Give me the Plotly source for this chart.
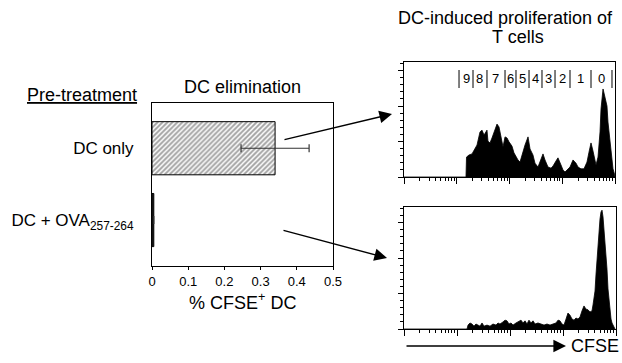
import plotly.graph_objects as go
import numpy as np

# ---------------- data ----------------
categories = ["DC only", "DC + OVA<sub>257-264</sub>"]
cfse_pct = [0.34, 0.005]
cfse_err = [0.094, 0.0]
bar_ticks = [0, 0.1, 0.2, 0.3, 0.4, 0.5]
bar_tick_labels = ["0", "0.1", "0.2", "0.3", "0.4", "0.5"]

# top histogram (DC only): log10 CFSE intensity, cell counts
top_log = [0.0, 1.175, 1.185, 1.232, 1.289, 1.346, 1.384, 1.441, 1.479, 1.517, 1.536, 1.573, 1.592,
           1.630, 1.668, 1.687, 1.725, 1.763, 1.801, 1.820, 1.858, 1.877, 1.915, 1.953, 1.991,
           2.047, 2.085, 2.123, 2.161, 2.199, 2.237, 2.294, 2.351, 2.389, 2.445, 2.483, 2.540,
           2.597, 2.635, 2.673, 2.730, 2.787, 2.825, 2.881, 2.919, 2.976, 3.014, 3.052, 3.090,
           3.147, 3.204, 3.261, 3.299, 3.355, 3.412, 3.469, 3.507, 3.545, 3.583, 3.621, 3.640,
           3.678, 3.716, 3.735, 3.754, 3.773, 3.791, 3.810, 3.848, 3.867, 3.905, 3.943, 3.962,
           3.991, 4.0]
top_count = [0, 0, 56, 62, 65, 82, 90, 127, 132, 118, 124, 132, 101,
             96, 110, 118, 135, 149, 141, 127, 107, 85, 113, 110, 99,
             87, 68, 56, 48, 42, 62, 90, 113, 79, 62, 39, 28,
             51, 65, 48, 28, 25, 31, 45, 54, 34, 20, 14, 20,
             28, 48, 39, 28, 23, 23, 42, 70, 96, 73, 48, 34,
             56, 127, 192, 225, 248, 237, 225, 200, 155, 99, 51, 23,
             8, 0]

# bottom histogram (DC + OVA257-264)
bot_log = [0.0, 1.189, 1.208, 1.245, 1.283, 1.321, 1.358, 1.396, 1.434, 1.472, 1.509, 1.566, 1.623,
           1.679, 1.736, 1.774, 1.811, 1.868, 1.906, 1.943, 1.981, 2.019, 2.057, 2.113, 2.170,
           2.208, 2.245, 2.283, 2.321, 2.358, 2.396, 2.434, 2.472, 2.528, 2.585, 2.642, 2.698,
           2.755, 2.811, 2.868, 2.906, 2.943, 2.981, 3.019, 3.057, 3.094, 3.132, 3.170, 3.208,
           3.245, 3.283, 3.321, 3.358, 3.396, 3.434, 3.472, 3.509, 3.547, 3.566, 3.585, 3.604,
           3.623, 3.642, 3.660, 3.679, 3.698, 3.717, 3.736, 3.755, 3.774, 3.792, 3.811, 3.830,
           3.849, 3.868, 3.887, 3.906, 3.925, 3.962, 3.981]
bot_count = [0, 0, 11, 17, 14, 8, 14, 11, 8, 17, 8, 11, 8,
             14, 11, 17, 14, 20, 25, 23, 14, 17, 11, 17, 23,
             25, 17, 23, 14, 25, 17, 23, 14, 17, 14, 11, 14,
             11, 14, 17, 25, 23, 14, 11, 28, 45, 39, 28, 25,
             31, 28, 34, 51, 65, 56, 54, 48, 51, 68, 85, 107,
             155, 197, 254, 282, 310, 330, 335, 316, 282, 254, 211, 169,
             113, 79, 51, 28, 17, 6, 0]

# division gates (log10 CFSE edges) and their labels
gate_edges = [1.043, 1.308, 1.573, 1.915, 2.123, 2.370, 2.616, 2.863, 3.147, 3.545, 3.943]
gate_labels = ["9", "8", "7", "6", "5", "4", "3", "2", "1", "0"]

# ---------------- figure ----------------
W, H = 622, 363
FONT = "Arial, Liberation Sans, Helvetica, sans-serif"


def px(x):
    return x / W


def py(y):
    return 1 - y / H


fig = go.Figure()

fig.add_trace(go.Bar(
    x=cfse_pct, y=[0, 1], orientation="h", width=0.74,
    marker=dict(color=["white", "#222"], line=dict(color="black", width=1),
                pattern=dict(shape=["/", ""], fgcolor="black", bgcolor="white", size=3.5, solidity=0.55)),
    error_x=dict(type="data", array=cfse_err, color="#333", thickness=1.2, width=4),
    xaxis="x", yaxis="y", showlegend=False,
))

fig.add_trace(go.Scatter(
    x=top_log, y=top_count, mode="lines", fill="tozeroy", fillcolor="black",
    line=dict(color="black", width=0.8), xaxis="x2", yaxis="y2", showlegend=False,
))
fig.add_trace(go.Scatter(
    x=bot_log, y=bot_count, mode="lines", fill="tozeroy", fillcolor="black",
    line=dict(color="black", width=0.8), xaxis="x3", yaxis="y3", showlegend=False,
))

minor_log = [d + np.log10(k) for d in range(4) for k in range(2, 10)]

common_line = dict(showline=True, linecolor="black", linewidth=1, mirror=True,
                   showgrid=False, zeroline=False, automargin=False)

hist_x = dict(range=[0, 4], tickvals=[0, 1, 2, 3, 4], ticks="outside", ticklen=6,
              tickcolor="black", showticklabels=False,
              minor=dict(tickvals=minor_log, ticks="outside", ticklen=3, tickcolor="black"),
              **common_line)

fig.update_layout(
    width=W, height=H, autosize=False,
    margin=dict(l=0, r=0, t=0, b=0),
    paper_bgcolor="white", plot_bgcolor="white",
    font=dict(family=FONT, color="black"),
    xaxis=dict(domain=[px(152), px(333)], range=[0, 0.5], tickvals=bar_ticks,
               ticktext=bar_tick_labels, ticks="outside", ticklen=3, tickcolor="black",
               tickfont=dict(size=13), anchor="y", **common_line),
    yaxis=dict(domain=[py(266), py(103)], range=[1.64, -0.63], tickvals=[0, 1],
               ticktext=categories, ticks="", ticklabelstandoff=14,
               tickfont=dict(size=17), anchor="x", **common_line),
    xaxis2=dict(domain=[px(404), px(615)], anchor="y2", **hist_x),
    yaxis2=dict(domain=[py(177), py(62)], anchor="x2", range=[0, 324],
                tickvals=[0, 100, 200, 300], ticks="outside", ticklen=5, tickcolor="black",
                showticklabels=False,
                minor=dict(dtick=20, ticks="outside", ticklen=3, tickcolor="black"),
                **common_line),
    xaxis3=dict(domain=[px(404), px(616)], anchor="y3", **hist_x),
    yaxis3=dict(domain=[py(329), py(207)], anchor="x3", range=[0, 344],
                tickvals=[0, 100, 200, 300], ticks="outside", ticklen=5, tickcolor="black",
                showticklabels=False,
                minor=dict(dtick=20, ticks="outside", ticklen=3, tickcolor="black"),
                **common_line),
)

ann = []
ann.append(dict(text="DC elimination", x=px(242), y=py(87), xref="paper", yref="paper",
                showarrow=False, font=dict(size=18), xanchor="center", yanchor="middle"))
ann.append(dict(text="<u>Pre-treatment</u>", x=px(139), y=py(95), xref="paper", yref="paper",
                showarrow=False, font=dict(size=18), xanchor="right", yanchor="middle"))
ann.append(dict(text="% CFSE<sup>+</sup> DC", x=px(242), y=py(301), xref="paper", yref="paper",
                showarrow=False, font=dict(size=18), xanchor="center", yanchor="middle"))
ann.append(dict(text="DC-induced proliferation of", x=px(505), y=py(18), xref="paper", yref="paper",
                showarrow=False, font=dict(size=18), xanchor="center", yanchor="middle"))
ann.append(dict(text="T cells", x=px(518), y=py(37), xref="paper", yref="paper",
                showarrow=False, font=dict(size=18), xanchor="center", yanchor="middle"))
ann.append(dict(text="CFSE", x=px(569), y=py(346), xref="paper", yref="paper",
                showarrow=False, font=dict(size=18), xanchor="left", yanchor="middle"))

# arrows
for tip, tail in [((392, 114), (283, 140)), ((387, 258), (282, 230)), ((566, 346), (405, 346))]:
    ann.append(dict(text="", x=px(tip[0]), y=py(tip[1]), xref="paper", yref="paper",
                    ax=tail[0] - tip[0], ay=tail[1] - tip[1], axref="pixel", ayref="pixel",
                    showarrow=True, arrowhead=2, arrowsize=1.8, arrowwidth=1.4, arrowcolor="black"))

# gate labels
for i, lab in enumerate(gate_labels):
    mid = (gate_edges[i] + gate_edges[i + 1]) / 2
    ann.append(dict(text=lab, x=mid, y=py(79), xref="x2", yref="paper", showarrow=False,
                    font=dict(size=13), xanchor="center", yanchor="middle"))

shapes = []
for e in gate_edges:
    shapes.append(dict(type="line", xref="x2", yref="paper", x0=e, x1=e, y0=py(88), y1=py(70),
                       line=dict(color="black", width=1)))

fig.update_layout(annotations=ann, shapes=shapes)

fig.write_html("out.html", config={"displayModeBar": False},
               post_script="document.body.style.margin='0';")
